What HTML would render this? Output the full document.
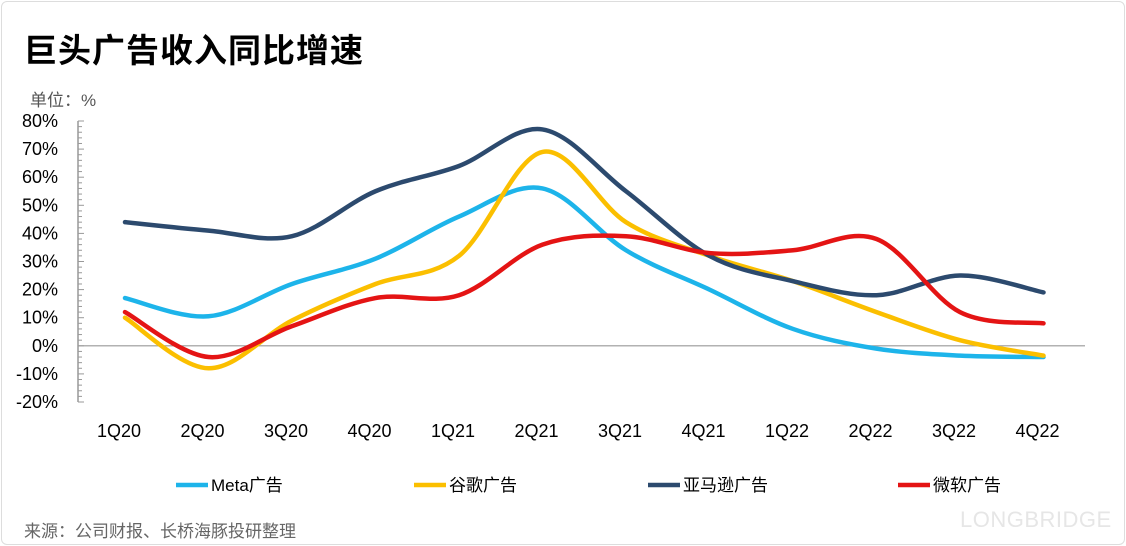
<!DOCTYPE html>
<html><head><meta charset="utf-8">
<style>
html,body{margin:0;padding:0;background:#fff;}
body{width:1126px;height:546px;position:relative;overflow:hidden;font-family:"Liberation Sans","Noto Sans CJK SC",sans-serif;}
#frame{position:absolute;left:1px;top:1px;width:1122px;height:542px;border:1px solid #ddd;border-radius:6px;}
#title{position:absolute;left:24px;top:24px;font-size:33px;font-weight:bold;color:#000;letter-spacing:1px;}
#unit{position:absolute;left:30px;top:86px;font-size:17px;color:#555;}
#source{position:absolute;left:24px;top:517px;font-size:17px;color:#666;}
#wm{position:absolute;left:960px;top:507px;font-size:22px;color:#e6e6e6;letter-spacing:0.5px;}
svg{position:absolute;left:0;top:0;}
</style></head><body>
<div id="frame"></div>
<div id="title">巨头广告收入同比增速</div>
<div id="unit">单位：%</div>
<div id="source">来源：公司财报、长桥海豚投研整理</div>
<div id="wm">LONGBRIDGE</div>
<svg id="chart" width="1126" height="546"></svg>
<script>
const categories=["1Q20","2Q20","3Q20","4Q20","1Q21","2Q21","3Q21","4Q21","1Q22","2Q22","3Q22","4Q22"];
const metaValues=[17,10.5,22,31,46,56,34,20,6,-1,-3.5,-4];
const googleValues=[10,-8,9,22,32,69,44,32,23,12,2,-3.5];
const amazonValues=[44,41,39,55,64,77,55,32,23,18,25,19];
const msValues=[12,-4,7,17,18,36,39,33,34,38,12,8];
const yTicks=[80,70,60,50,40,30,20,10,0,-10,-20];
const seriesNames=["Meta广告","谷歌广告","亚马逊广告","微软广告"];

const NS="http://www.w3.org/2000/svg";
const svg=document.getElementById('chart');
const X0=125,DX=83.5,Y80=121,PER10=28.1;
function xs(i){return X0+i*DX;}
function ys(v){return Y80+(80-v)/10*PER10;}
function mk(t,a){const e=document.createElementNS(NS,t);for(const k in a)e.setAttribute(k,a[k]);svg.appendChild(e);return e;}

const ax=mk('line',{x1:78,y1:ys(80),x2:78,y2:ys(-20),stroke:'#999','stroke-width':1.5});


for(let v=-20;v<=80;v+=2){
  const t=mk('line',{x1:78,y1:ys(v),x2:v%10===0?84:82,y2:ys(v),stroke:'#999','stroke-width':1});
  
  
}
yTicks.forEach(v=>{
  const t=mk('text',{x:58,y:ys(v)+6,'text-anchor':'end','font-size':18,fill:'#000'});
  t.textContent=v+'%';
  
  
});
const zl=mk('line',{x1:78,y1:ys(0),x2:1085,y2:ys(0),stroke:'#999','stroke-width':1.2});


categories.forEach((c,i)=>{
  const t=mk('text',{x:xs(i)-6,y:437,'text-anchor':'middle','font-size':18,fill:'#000'});
  t.textContent=c;
  
  
});

function pathFor(vals){
  const p=vals.map((v,i)=>[xs(i),ys(v)]);
  let d='M'+p[0][0]+','+p[0][1];
  for(let i=0;i<p.length-1;i++){
    const p0=p[i-1]||p[i],p1=p[i],p2=p[i+1],p3=p[i+2]||p2;
    const c1=[p1[0]+(p2[0]-p0[0])/6,p1[1]+(p2[1]-p0[1])/6];
    const c2=[p2[0]-(p3[0]-p1[0])/6,p2[1]-(p3[1]-p1[1])/6];
    d+=' C'+c1[0]+','+c1[1]+' '+c2[0]+','+c2[1]+' '+p2[0]+','+p2[1];
  }
  return d;
}
const series=[
  {vals:metaValues,color:'#1db4ea',name:'meta-line'},
  {vals:googleValues,color:'#fbbf00',name:'google-line'},
  {vals:amazonValues,color:'#2c4a6e',name:'amazon-line'},
  {vals:msValues,color:'#e41414',name:'microsoft-line'}
];
series.forEach(s=>{
  const p=mk('path',{d:pathFor(s.vals),fill:'none',stroke:s.color,'stroke-width':4.5,'stroke-linecap':'round'});
  
  
});
const legX=[176,414,648,898];
series.forEach((s,i)=>{
  const l=mk('line',{x1:legX[i],y1:485,x2:legX[i]+32,y2:485,stroke:s.color,'stroke-width':4.5});
  
  
  const t=mk('text',{x:legX[i]+35,y:491,'font-size':17,fill:'#000'});
  t.textContent=seriesNames[i];
  
  
});
</script>
</body></html>
